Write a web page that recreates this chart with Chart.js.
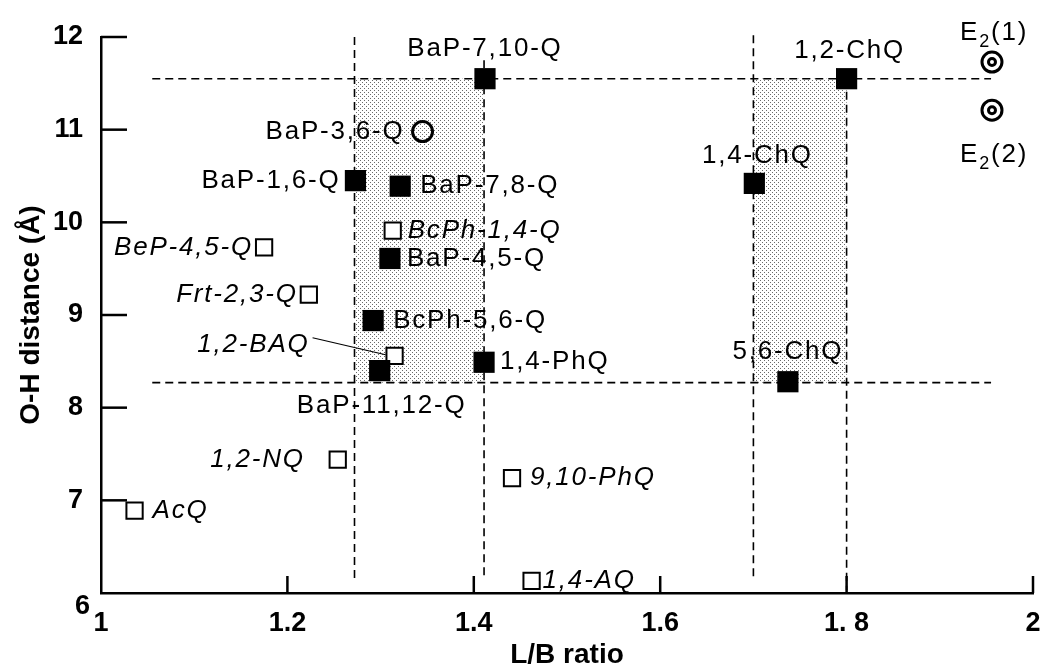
<!DOCTYPE html>
<html>
<head>
<meta charset="utf-8">
<script src="https://cdn.jsdelivr.net/npm/chart.js@4.4.0/dist/chart.umd.min.js"></script>
<style>
  html, body { margin: 0; padding: 0; background: #fff; }
</style>
</head>
<body>
<canvas id="myChart" width="1041" height="667"></canvas>
<script>
// filled squares
var filledNames = ['BaP-7,10-Q', '1,2-ChQ', 'BaP-1,6-Q', 'BaP-7,8-Q', 'BaP-4,5-Q', 'BcPh-5,6-Q', 'BaP-11,12-Q', '1,4-PhQ', '1,4-ChQ', '5,6-ChQ'];
var filledLB = [1.412, 1.800, 1.273, 1.321, 1.310, 1.292, 1.299, 1.411, 1.701, 1.737];
var filledOH = [11.55, 11.55, 10.45, 10.39, 9.61, 8.94, 8.40, 8.49, 10.42, 8.28];

// open squares (italic labels)
var openNames = ['BcPh-1,4-Q', '1,2-BAQ', 'BeP-4,5-Q', 'Frt-2,3-Q', '1,2-NQ', 'AcQ', '9,10-PhQ', '1,4-AQ'];
var openLB = [1.313, 1.315, 1.175, 1.223, 1.254, 1.036, 1.441, 1.462];
var openOH = [9.91, 8.56, 9.73, 9.22, 7.44, 6.89, 7.24, 6.13];

// open circle
var circleNames = ['BaP-3,6-Q'];
var circleLB = [1.345];
var circleOH = [10.98];

// E2 double circles
var e2Names = ['1', '2'];
var e2LB = [1.956, 1.956];
var e2OH = [11.73, 11.21];

// shaded windows and dashed guides
var windowLB = [[1.272, 1.411], [1.700, 1.800]];
var windowOH = [8.27, 11.55];
var hGuideOH = [8.27, 11.55];
var hGuideLB = [1.055, 1.955];
var vGuideLB = [1.272, 1.411, 1.700, 1.800];
var vGuideFrom = [6.14, 6.14, 6.14, 6.03];
var vGuideTo = [12.0, 11.75, 12.02, 11.55];

var xTickLabels = ['1', '1.2', '1.4', '1.6', '1. 8', '2'];

// label placement: [dx, dy, align]
var labelLayout = {
    'BaP-7,10-Q': [0, -30, 'center'],
    '1,2-ChQ': [3, -28, 'center'],
    'BaP-1,6-Q': [-15, 0, 'right'],
    'BaP-7,8-Q': [20, 0, 'left'],
    'BaP-4,5-Q': [17, 0, 'left'],
    'BcPh-5,6-Q': [20, 0, 'left'],
    'BaP-11,12-Q': [2, 35, 'center'],
    '1,4-PhQ': [16, 0, 'left'],
    '1,4-ChQ': [3, -28, 'center'],
    '5,6-ChQ': [0, -30, 'center'],
    'BcPh-1,4-Q': [15, 0, 'left'],
    '1,2-BAQ': [-85, -11, 'right'],
    'BeP-4,5-Q': [-11, 0, 'right'],
    'Frt-2,3-Q': [-11, 0, 'right'],
    '1,2-NQ': [-33, 0, 'right'],
    'AcQ': [18, 0, 'left'],
    '9,10-PhQ': [18, 0, 'left'],
    '1,4-AQ': [11, 0, 'left'],
    'BaP-3,6-Q': [-18, 0, 'right']
};

var FONT = '"Liberation Sans", Arial, sans-serif';

function dotPattern(ctx) {
    var c = document.createElement('canvas');
    c.width = 4; c.height = 4;
    var p = c.getContext('2d');
    p.fillStyle = '#ffffff';
    p.fillRect(0, 0, 4, 4);
    p.fillStyle = '#6a6a6a';
    p.fillRect(0, 0, 1, 1);
    p.fillRect(2, 2, 1, 1);
    return ctx.createPattern(c, 'repeat');
}

function pts(xs, ys) {
    return xs.map(function (v, i) { return { x: v, y: ys[i] }; });
}

var decor = {
    id: 'decor',
    beforeDatasetsDraw: function (chart) {
        var ctx = chart.ctx, sx = chart.scales.x, sy = chart.scales.y;
        ctx.save();
        ctx.fillStyle = dotPattern(ctx);
        windowLB.forEach(function (w) {
            var x0 = sx.getPixelForValue(w[0]), x1 = sx.getPixelForValue(w[1]);
            var y0 = sy.getPixelForValue(windowOH[1]), y1 = sy.getPixelForValue(windowOH[0]);
            ctx.fillRect(x0, y0, x1 - x0, y1 - y0);
        });
        ctx.strokeStyle = '#000';
        ctx.lineWidth = 1.6;
        ctx.setLineDash([8, 5]);
        hGuideOH.forEach(function (v) {
            var y = sy.getPixelForValue(v);
            ctx.beginPath();
            ctx.moveTo(sx.getPixelForValue(hGuideLB[0]), y);
            ctx.lineTo(sx.getPixelForValue(hGuideLB[1]), y);
            ctx.stroke();
        });
        vGuideLB.forEach(function (v, i) {
            var x = sx.getPixelForValue(v);
            ctx.beginPath();
            ctx.moveTo(x, sy.getPixelForValue(vGuideTo[i]));
            ctx.lineTo(x, sy.getPixelForValue(vGuideFrom[i]));
            ctx.stroke();
        });
        ctx.restore();
    },
    afterDraw: function (chart) {
        var ctx = chart.ctx, sx = chart.scales.x, sy = chart.scales.y;
        var area = chart.chartArea;
        ctx.save();
        // inward tick marks
        ctx.strokeStyle = '#000';
        ctx.lineWidth = 2.5;
        sy.ticks.forEach(function (t) {
            if (t.value === sy.min) return;
            var y = sy.getPixelForValue(t.value);
            ctx.beginPath();
            ctx.moveTo(area.left, y);
            ctx.lineTo(area.left + 26, y);
            ctx.stroke();
        });
        sx.ticks.forEach(function (t) {
            if (t.value === sx.min) return;
            var x = sx.getPixelForValue(t.value);
            ctx.beginPath();
            ctx.moveTo(x, area.bottom);
            ctx.lineTo(x, area.bottom - 17);
            ctx.stroke();
        });

        // origin label of the y axis sits a little lower than the others
        ctx.fillStyle = '#000';
        ctx.font = 'bold 27px ' + FONT;
        ctx.textAlign = 'right';
        ctx.textBaseline = 'middle';
        ctx.fillText(String(sy.min), area.left - 11, sy.getPixelForValue(sy.min) + 14);

        // point labels
        ctx.letterSpacing = '1.8px';
        [0, 1, 2].forEach(function (di) {
            var ds = chart.data.datasets[di];
            var meta = chart.getDatasetMeta(di);
            ds.names.forEach(function (name, j) {
                var el = meta.data[j];
                var lay = labelLayout[name];
                ctx.font = (ds.italic ? 'italic ' : '') + '26px ' + FONT;
                ctx.textAlign = lay[2];
                ctx.fillText(name, el.x + lay[0], el.y + lay[1]);
                if (name === '1,2-BAQ') {
                    ctx.lineWidth = 1.2;
                    ctx.beginPath();
                    ctx.moveTo(el.x - 82, el.y - 18);
                    ctx.lineTo(el.x - 9, el.y - 1);
                    ctx.stroke();
                }
            });
        });

        // E2 labels with subscript
        var em = chart.getDatasetMeta(3);
        ctx.textAlign = 'left';
        e2Names.forEach(function (n, j) {
            var el = em.data[j];
            var x = el.x - 32;
            var y = el.y + (j === 0 ? -29 : 45);
            ctx.font = '26px ' + FONT;
            ctx.fillText('E', x, y);
            var w = ctx.measureText('E').width;
            ctx.font = '18px ' + FONT;
            ctx.fillText('2', x + w, y + 9);
            var w2 = ctx.measureText('2').width;
            ctx.font = '26px ' + FONT;
            ctx.fillText('(' + n + ')', x + w + w2, y);
        });
        ctx.restore();
    }
};

var chart = new Chart('myChart', {
    type: 'scatter',
    data: {
        datasets: [{
            names: filledNames,
            data: pts(filledLB, filledOH),
            pointStyle: 'rect',
            pointRadius: 15,
            backgroundColor: '#000',
            borderColor: '#000',
            borderWidth: 0,
            order: 0
        }, {
            names: openNames,
            italic: true,
            data: pts(openLB, openOH),
            pointStyle: 'rect',
            pointRadius: 11.5,
            backgroundColor: '#fff',
            borderColor: '#000',
            borderWidth: 2,
            order: 1
        }, {
            names: circleNames,
            data: pts(circleLB, circleOH),
            pointStyle: 'circle',
            pointRadius: 10,
            backgroundColor: 'rgba(255,255,255,0)',
            borderColor: '#000',
            borderWidth: 3,
            order: 1
        }, {
            data: pts(e2LB, e2OH),
            pointStyle: 'circle',
            pointRadius: 10,
            backgroundColor: '#fff',
            borderColor: '#000',
            borderWidth: 3,
            order: 1
        }, {
            data: pts(e2LB, e2OH),
            pointStyle: 'circle',
            pointRadius: 3.5,
            backgroundColor: '#fff',
            borderColor: '#000',
            borderWidth: 3,
            order: 0
        }]
    },
    options: {
        responsive: false,
        animation: false,
        clip: false,
        layout: { autoPadding: false, padding: { top: 37, right: 8, left: 0, bottom: 0 } },
        plugins: { legend: { display: false }, tooltip: { enabled: false } },
        elements: { point: { hoverRadius: 0 } },
        scales: {
            x: {
                type: 'linear',
                min: 1, max: 2,
                afterFit: function (s) {
                    s.height = 74;
                    s.paddingLeft = 0;
                    s.paddingRight = 0;
                },
                border: { color: '#000', width: 2.5 },
                grid: { display: false },
                ticks: {
                    stepSize: 0.2,
                    padding: 6,
                    color: '#000',
                    maxRotation: 0,
                    font: { family: FONT, size: 27, weight: 'bold' },
                    callback: function (v, i) { return xTickLabels[i]; }
                },
                title: {
                    display: true,
                    text: 'L/B ratio',
                    color: '#000',
                    padding: { top: 0, bottom: -5 },
                    font: { family: FONT, size: 28, weight: 'bold' }
                }
            },
            y: {
                type: 'linear',
                min: 6, max: 12,
                afterFit: function (s) {
                    s.width = 101;
                    s.paddingTop = 0;
                    s.paddingBottom = 0;
                },
                border: { color: '#000', width: 2.5 },
                grid: { display: false },
                ticks: {
                    stepSize: 1,
                    padding: 10,
                    color: '#000',
                    font: { family: FONT, size: 27, weight: 'bold' },
                    callback: function (v) { return v === 6 ? '' : String(v); }
                },
                title: {
                    display: true,
                    text: 'O-H distance (Å)',
                    color: '#000',
                    padding: { top: 14, bottom: 0 },
                    font: { family: FONT, size: 28, weight: 'bold' }
                }
            }
        }
    },
    plugins: [decor]
});
</script>
</body>
</html>
